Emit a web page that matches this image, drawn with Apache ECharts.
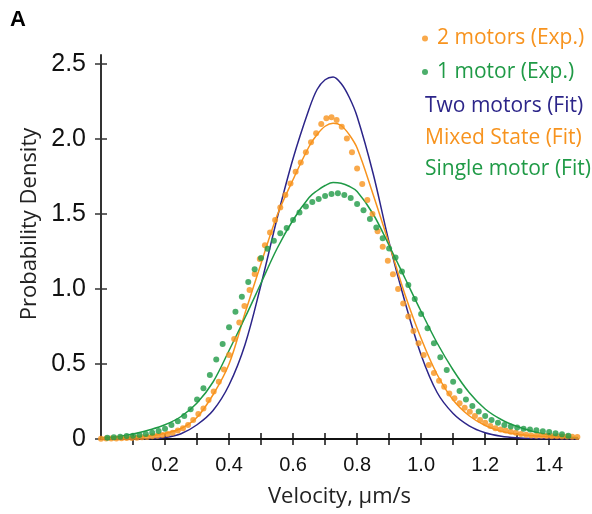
<!DOCTYPE html>
<html><head><meta charset="utf-8">
<script src="https://cdn.jsdelivr.net/npm/echarts@6/dist/echarts.min.js"></script>
<style>html,body{margin:0;padding:0;background:#fff}#c{width:592px;height:514px}</style>
</head><body><div id="c"></div>
<script>
// ---- data ----
const xTicks = [0.1,0.2,0.3,0.4,0.5,0.6,0.7,0.8,0.9,1.0,1.1,1.2,1.3,1.4];
const xTickLabels = [0.2,0.4,0.6,0.8,1.0,1.2,1.4];
const yTickLabels = [0,0.5,1.0,1.5,2.0,2.5];

const fitX = [0,0.05,0.1,0.15,0.2,0.25,0.3,0.35,0.4,0.45,0.5,0.55,0.6,0.65,0.675,0.7,0.725,0.75,0.775,0.8,0.85,0.9,0.95,1.0,1.05,1.1,1.15,1.2,1.25,1.3,1.35,1.4,1.45,1.49];
const twoMotorsFit = [0,0,0,0.002,0.01,0.035,0.095,0.19,0.36,0.63,1.03,1.47,1.87,2.2,2.33,2.395,2.413,2.37,2.28,2.15,1.77,1.31,0.91,0.56,0.31,0.17,0.088,0.042,0.019,0.008,0.003,0.001,0,0];
const mixedStateFit = [0.004,0.006,0.011,0.02,0.038,0.07,0.145,0.295,0.5,0.84,1.17,1.49,1.73,1.95,2.03,2.085,2.105,2.09,2.03,1.94,1.63,1.30,0.96,0.67,0.43,0.26,0.155,0.09,0.052,0.032,0.021,0.015,0.012,0.01];
const singleMotorFit = [0.006,0.015,0.033,0.06,0.095,0.15,0.24,0.38,0.59,0.81,1.04,1.27,1.46,1.61,1.655,1.69,1.71,1.705,1.685,1.65,1.5,1.29,1.07,0.85,0.64,0.46,0.31,0.2,0.13,0.083,0.05,0.027,0.014,0.009];

const twoExpX = [0.000,0.016,0.032,0.048,0.064,0.080,0.096,0.112,0.128,0.144,0.160,0.176,0.192,0.208,0.224,0.240,0.256,0.272,0.288,0.304,0.320,0.336,0.352,0.368,0.384,0.400,0.416,0.432,0.448,0.464,0.480,0.496,0.512,0.528,0.544,0.560,0.576,0.592,0.608,0.624,0.640,0.656,0.672,0.688,0.704,0.720,0.736,0.752,0.768,0.784,0.800,0.816,0.832,0.848,0.864,0.880,0.896,0.912,0.928,0.944,0.960,0.976,0.992,1.008,1.024,1.040,1.056,1.072,1.088,1.104,1.120,1.136,1.152,1.168,1.184,1.200,1.216,1.232,1.248,1.264,1.280,1.296,1.312,1.328,1.344,1.360,1.376,1.392,1.408,1.424,1.440,1.456,1.472,1.488];
const twoExpY = [0.002,0.003,0.003,0.004,0.005,0.006,0.007,0.009,0.011,0.014,0.018,0.022,0.027,0.033,0.042,0.056,0.071,0.093,0.127,0.167,0.204,0.26,0.316,0.382,0.464,0.56,0.667,0.776,0.887,0.993,1.10,1.20,1.291,1.376,1.46,1.544,1.627,1.704,1.782,1.844,1.911,1.978,2.038,2.10,2.138,2.145,2.127,2.082,2.004,1.912,1.804,1.70,1.593,1.50,1.385,1.282,1.189,1.098,1.00,0.904,0.816,0.72,0.638,0.56,0.493,0.44,0.389,0.349,0.304,0.271,0.238,0.209,0.182,0.153,0.127,0.109,0.087,0.071,0.064,0.056,0.049,0.042,0.033,0.029,0.024,0.022,0.021,0.02,0.019,0.018,0.017,0.016,0.015,0.014];

const oneExpX = [0.02,0.04,0.06,0.08,0.10,0.12,0.14,0.16,0.18,0.20,0.22,0.24,0.26,0.28,0.30,0.32,0.34,0.36,0.38,0.40,0.42,0.44,0.46,0.48,0.50,0.52,0.54,0.56,0.58,0.60,0.62,0.64,0.66,0.68,0.70,0.72,0.74,0.76,0.78,0.80,0.82,0.84,0.86,0.88,0.90,0.92,0.94,0.96,0.98,1.00,1.02,1.04,1.06,1.08,1.10,1.12,1.14,1.16,1.18,1.20,1.22,1.24,1.26,1.28,1.30,1.32,1.34,1.36,1.38,1.40,1.42,1.44,1.46];
const oneExpY = [0.008,0.012,0.015,0.02,0.022,0.026,0.033,0.042,0.053,0.069,0.093,0.118,0.153,0.198,0.264,0.338,0.427,0.53,0.633,0.745,0.849,0.949,1.047,1.131,1.207,1.269,1.322,1.371,1.407,1.46,1.51,1.55,1.58,1.60,1.62,1.633,1.638,1.627,1.607,1.567,1.525,1.467,1.41,1.338,1.27,1.21,1.116,1.027,0.933,0.833,0.738,0.638,0.545,0.46,0.382,0.32,0.264,0.22,0.184,0.153,0.127,0.109,0.093,0.084,0.076,0.069,0.064,0.058,0.051,0.047,0.038,0.031,0.022];

const NAVY = '#2c2589', ORANGE = '#f7931e', GREEN = '#1f9a46';
const zip = (xs, ys) => xs.map((x, i) => [x, ys[i]]);

const chart = echarts.init(document.getElementById('c'));
const tickFont = '"Liberation Sans", Arial, sans-serif';
const textFont = '"Open Sans", sans-serif';
const commonX = {type:'value', min:0, max:1.49, gridIndex:0, splitLine:{show:false}};
const commonY = {type:'value', min:0, max:2.56, gridIndex:0, splitLine:{show:false}};

chart.setOption({
  animation:false,
  backgroundColor:'#fff',
  title:{text:'A', left:5, top:4, textStyle:{fontFamily:tickFont, fontWeight:'bold', fontSize:22, color:'#000'}},
  grid:{left:101, right:14, top:55, bottom:75, containLabel:false},
  legend:[
    {orient:'vertical', left:417, top:23, itemWidth:14, itemHeight:6, itemGap:12.5, icon:'circle', selectedMode:false,
     textStyle:{fontFamily:textFont, fontSize:21},
     data:[{name:'2 motors (Exp.)', textStyle:{color:ORANGE}}, {name:'1 motor (Exp.)', textStyle:{color:GREEN}}]},
    {orient:'vertical', left:415, top:91, itemWidth:0, itemHeight:0, itemGap:10.5, icon:'circle', selectedMode:false,
     itemStyle:{opacity:0},
     textStyle:{fontFamily:textFont, fontSize:21},
     data:[{name:'Two motors (Fit)', textStyle:{color:NAVY}}, {name:'Mixed State (Fit)', textStyle:{color:ORANGE}}, {name:'Single motor (Fit)', textStyle:{color:GREEN}}]}
  ],
  xAxis:[
    Object.assign({}, commonX, {
      name:'Velocity, μm/s', nameLocation:'middle', nameGap:47,
      nameTextStyle:{fontFamily:textFont, fontSize:22, color:'#222'},
      axisLine:{show:true, lineStyle:{color:'#111', width:2}},
      axisTick:{show:true, length:6, customValues:xTicks, lineStyle:{color:'#111', width:1.5}},
      axisLabel:{show:true, margin:16, customValues:xTickLabels, fontFamily:tickFont, fontSize:20, color:'#111',
        formatter:v => v.toFixed(1)}
    }),
    Object.assign({}, commonX, {
      position:'bottom',
      axisLine:{show:false},
      axisTick:{show:true, inside:true, length:6, customValues:xTicks, lineStyle:{color:'#111', width:1.5}},
      axisLabel:{show:false}
    })
  ],
  yAxis:[
    Object.assign({}, commonY, {
      name:'Probability Density', nameLocation:'middle', nameGap:59,
      nameTextStyle:{fontFamily:textFont, fontSize:22, color:'#222', padding:[0,0,0,46]},
      axisLine:{show:true, lineStyle:{color:'#333', width:2}},
      axisTick:{show:true, length:6, customValues:yTickLabels, lineStyle:{color:'#333', width:1.5}},
      axisLabel:{show:true, margin:15, customValues:yTickLabels, fontFamily:tickFont, fontSize:25, color:'#111',
        formatter:v => v === 0 ? '0' : v.toFixed(1)}
    }),
    Object.assign({}, commonY, {
      position:'left',
      axisLine:{show:false},
      axisTick:{show:true, inside:true, length:6, customValues:yTickLabels, lineStyle:{color:'#333', width:1.5}},
      axisLabel:{show:false}
    })
  ],
  series:[
    {name:'Two motors (Fit)', type:'line', data:zip(fitX, twoMotorsFit), smooth:0.35, showSymbol:false, symbol:'none',
     lineStyle:{color:NAVY, width:1.5}, itemStyle:{color:NAVY}, z:2},
    {name:'Mixed State (Fit)', type:'line', data:zip(fitX, mixedStateFit), smooth:0.35, showSymbol:false, symbol:'none',
     lineStyle:{color:ORANGE, width:1.5}, itemStyle:{color:ORANGE}, z:2},
    {name:'Single motor (Fit)', type:'line', data:zip(fitX, singleMotorFit), smooth:0.35, showSymbol:false, symbol:'none',
     lineStyle:{color:GREEN, width:1.5}, itemStyle:{color:GREEN}, z:2},
    {name:'2 motors (Exp.)', type:'scatter', data:zip(twoExpX, twoExpY), symbol:'circle', symbolSize:6,
     itemStyle:{color:ORANGE}, z:3},
    {name:'1 motor (Exp.)', type:'scatter', data:zip(oneExpX, oneExpY), symbol:'circle', symbolSize:6,
     itemStyle:{color:GREEN}, z:3}
  ]
});
</script></body></html>
